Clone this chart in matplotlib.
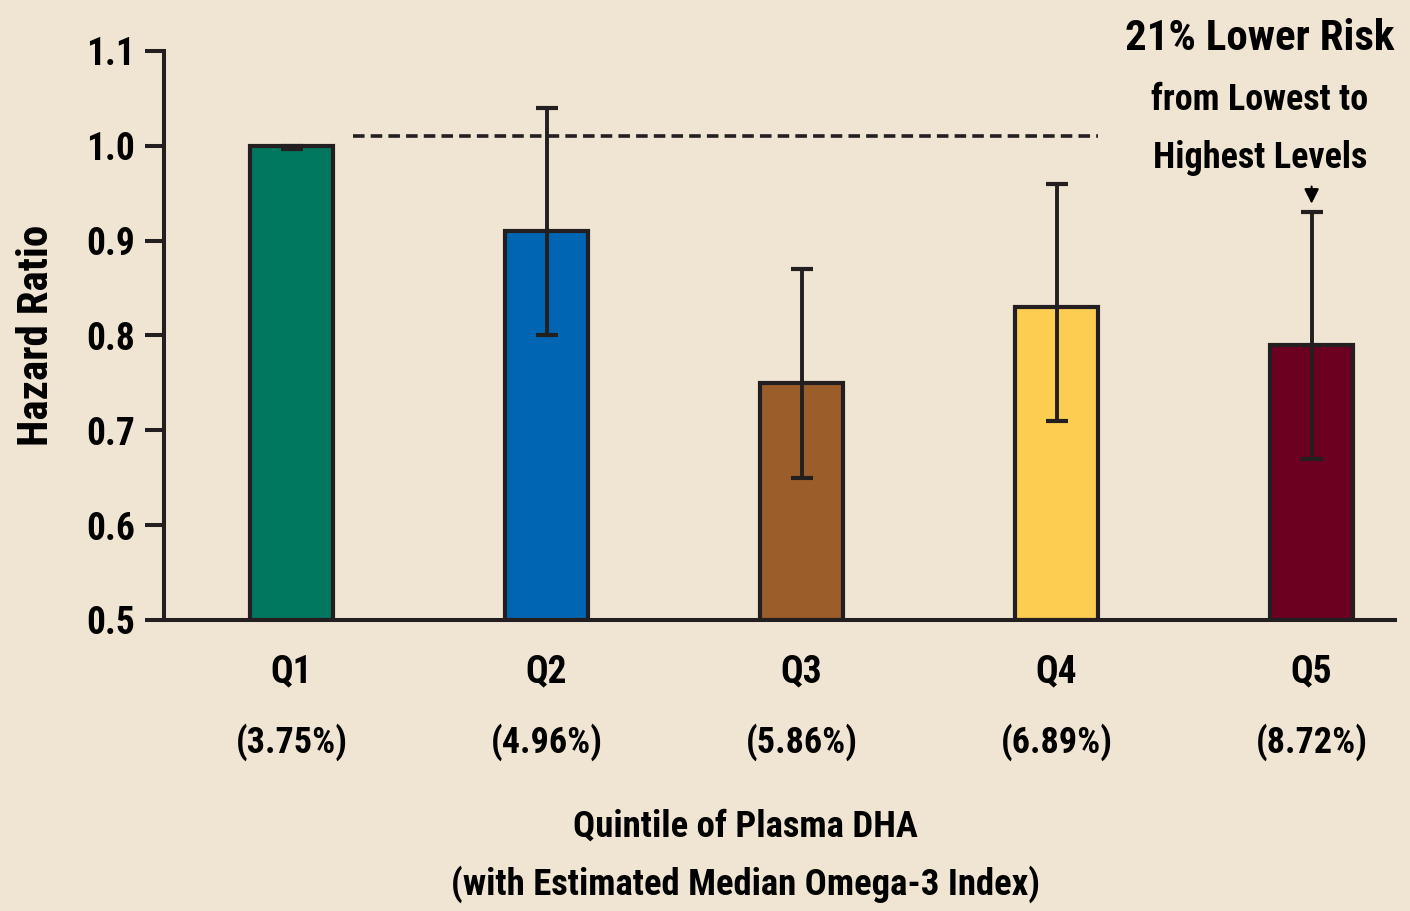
import matplotlib
matplotlib.use("Agg")
import matplotlib.pyplot as plt

# ---- data ----
quintiles = ["Q1", "Q2", "Q3", "Q4", "Q5"]
omega3_index = ["(3.75%)", "(4.96%)", "(5.86%)", "(6.89%)", "(8.72%)"]
hazard_ratio = [1.00, 0.91, 0.75, 0.83, 0.79]
ci_lower = [0.997, 0.80, 0.65, 0.71, 0.67]
ci_upper = [1.00, 1.04, 0.87, 0.96, 0.93]
reference_level = 1.01
bar_colors = ["#00775F", "#0066B3", "#9B5E2A", "#FDCD52", "#6B0020"]
y_ticks = [0.5, 0.6, 0.7, 0.8, 0.9, 1.0, 1.1]

BG = "#F0E5D2"
INK = "#231F20"
FONT = ["Roboto Condensed", "DejaVu Sans"]
plt.rcParams["font.family"] = FONT
plt.rcParams["font.weight"] = "bold"

fig = plt.figure(figsize=(14.1, 9.11), dpi=100, facecolor=BG)
ax = fig.add_axes([164/1410, 1-620/911, (1395-164)/1410, (620-51)/911])
ax.set_facecolor(BG)

x = list(range(len(quintiles)))
ax.bar(x, [h - 0.5 for h in hazard_ratio], bottom=0.5, width=0.325,
       color=bar_colors, edgecolor=INK, linewidth=3, zorder=2)
yerr = [[h - l for h, l in zip(hazard_ratio, ci_lower)],
        [u - h for h, u in zip(hazard_ratio, ci_upper)]]
ax.errorbar(x, hazard_ratio, yerr=yerr, fmt="none", ecolor=INK,
            elinewidth=2.8, capsize=8, capthick=3, zorder=3)

ax.hlines(reference_level, 0.243, 3.163, colors=INK, linewidth=2.6,
          linestyles=(0, (3.2, 1.7)), zorder=3)

ax.set_xlim(-0.5, 4.327)
ax.set_ylim(0.5, 1.1)
ax.set_yticks(y_ticks)
ax.set_yticklabels([f"{v:.1f}" for v in y_ticks], fontsize=27, fontweight="bold")
ax.tick_params(axis="y", length=14, width=2.9, color=INK, pad=7)
ax.set_xticks(x)
ax.set_xticklabels(quintiles, fontsize=27, fontweight="bold")
ax.tick_params(axis="x", length=0, pad=24)

for s in ["top", "right"]:
    ax.spines[s].set_visible(False)
for s in ["left", "bottom"]:
    ax.spines[s].set_linewidth(2.9)
    ax.spines[s].set_color(INK)

for xi, lab in zip(x, omega3_index):
    ax.annotate(lab, xy=(xi, 0), xycoords=("data", "axes fraction"),
                xytext=(0, -88), textcoords="offset points",
                ha="center", va="center", fontsize=26, fontweight="bold")

# arrow to Q5
ax.annotate("", xy=(4, 0.939), xytext=(4, 0.957),
            arrowprops=dict(arrowstyle="-|>", color="black", lw=1.5,
                            mutation_scale=22, shrinkA=0, shrinkB=0))

fig.text(1260/1410, 1-38/911, "21% Lower Risk", ha="center", va="center",
         fontsize=31, fontweight="bold", color="black")
fig.text(1260/1410, 1-100/911, "from Lowest to", ha="center", va="center",
         fontsize=26, fontweight="bold", color="black")
fig.text(1260/1410, 1-158/911, "Highest Levels", ha="center", va="center",
         fontsize=26, fontweight="bold", color="black")

fig.text(37/1410, 1-335/911, "Hazard Ratio", rotation=90, ha="center",
         va="center", fontsize=31, fontweight="bold", color="black")
fig.text(745/1410, 1-827/911, "Quintile of Plasma DHA", ha="center",
         va="center", fontsize=26.5, fontweight="bold", color="black")
fig.text(745/1410, 1-884/911, "(with Estimated Median Omega-3 Index)",
         ha="center", va="center", fontsize=26.5, fontweight="bold", color="black")

fig.savefig("out.png", dpi=100, facecolor=BG)
